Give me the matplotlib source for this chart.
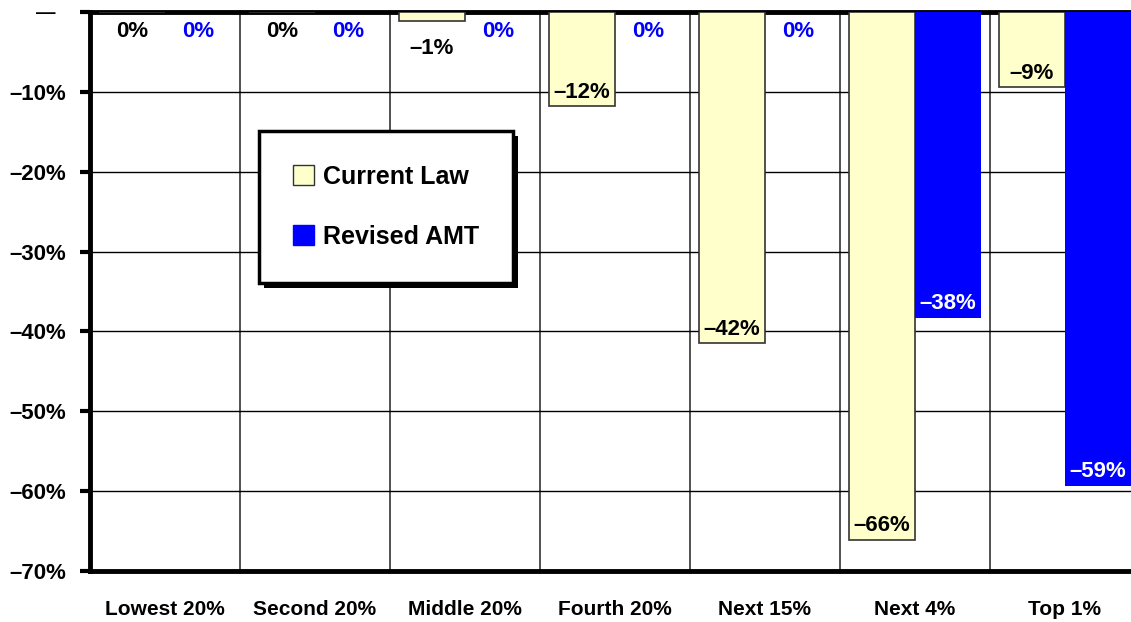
import numpy as np
import matplotlib.pyplot as plt
from matplotlib.patches import Patch, Rectangle

groups = ['Lowest 20%', 'Second 20%', 'Middle 20%', 'Fourth 20%', 'Next 15%', 'Next 4%', 'Top 1%']
current_law = [0, 0, -1.1, -11.8, -41.5, -66.1, -9.4]
revised_amt = [0, 0, 0, 0, 0, -38.3, -59.3]
yticks = [0, -10, -20, -30, -40, -50, -60, -70]
ytick_labels = ['\u2014  ', '\u201310%', '\u201320%', '\u201330%', '\u201340%', '\u201350%', '\u201360%', '\u201370%']

plt.rcParams['font.family'] = ['Liberation Sans', 'DejaVu Sans']
plt.rcParams['font.weight'] = 'bold'

fig = plt.figure(figsize=(11.31, 6.22), dpi=100)
ax = fig.add_axes([90 / 1131, 51 / 622, 1050 / 1131, 559 / 622])

x = np.arange(len(groups))
w = 0.44
cl_x = x + 0.5 - w / 2
ra_x = x + 0.5 + w / 2
ax.bar(cl_x, current_law, w, color='#FFFFCC', edgecolor='#333333', linewidth=1.2, zorder=3)
ax.bar(ra_x, revised_amt, w, color='#0000FF', edgecolor='none', zorder=3)

def lab(v):
    s = '%d%%' % round(abs(v))
    return '\u2013' + s if round(v) != 0 else s

for xi, v in zip(cl_x, current_law):
    if round(v) == 0:
        y = -2.4
    elif v > -3:
        y = -4.6
    else:
        y = v + 1.75
    ax.text(xi, y, lab(v), ha='center', va='center', fontsize=16, color='black', zorder=4)

for xi, v in zip(ra_x, revised_amt):
    if round(v) == 0:
        ax.text(xi, -2.4, lab(v), ha='center', va='center', fontsize=16, color='#0000FF', zorder=4)
    else:
        ax.text(xi, v + 1.75, lab(v), ha='center', va='center', fontsize=16, color='white', zorder=4)

ax.set_xlim(0, 7)
ax.set_ylim(-70, 0)
ax.set_yticks(yticks)
ax.set_yticklabels(ytick_labels, fontsize=16)
ax.get_yticklabels()[0].set_fontsize(14)
ax.set_xticks(x + 0.5)
ax.set_xticklabels(groups, fontsize=15)
ax.set_xticks(np.arange(1, 7), minor=True)
ax.tick_params(axis='x', which='both', length=0, pad=21)
ax.tick_params(axis='y', length=7, width=3, pad=10)
ax.grid(axis='y', which='major', color='black', linewidth=1, zorder=0)
ax.grid(axis='x', which='minor', color='#333333', linewidth=1.2, zorder=0)
for s in ['left', 'top', 'bottom']:
    ax.spines[s].set_linewidth(3.5)
ax.spines['right'].set_visible(False)

handles = [Patch(facecolor='#FFFFCC', edgecolor='#333333', label='Current Law'),
           Patch(facecolor='#0000FF', edgecolor='#0000FF', label='Revised AMT')]
leg = ax.legend(handles=handles, loc='upper left', bbox_to_anchor=(0.161, 0.787),
                fontsize=18, frameon=True, fancybox=False, shadow=False,
                borderpad=1.35, labelspacing=1.45, handlelength=0.85, handleheight=0.85,
                handletextpad=0.35, borderaxespad=0)
leg.get_frame().set_edgecolor('black')
leg.get_frame().set_linewidth(2.5)
leg.get_frame().set_alpha(1)
leg.set_zorder(6)

# black drop shadow behind the legend box
fig.canvas.draw()
bb = leg.get_window_extent().transformed(ax.transAxes.inverted())
dx, dy = 5 / 1050, 5 / 559
ax.add_patch(Rectangle((bb.x0 + dx, bb.y0 - dy), bb.width, bb.height, transform=ax.transAxes,
                       facecolor='black', edgecolor='none', zorder=5.5, clip_on=False))

fig.savefig('out.png', dpi=100)
